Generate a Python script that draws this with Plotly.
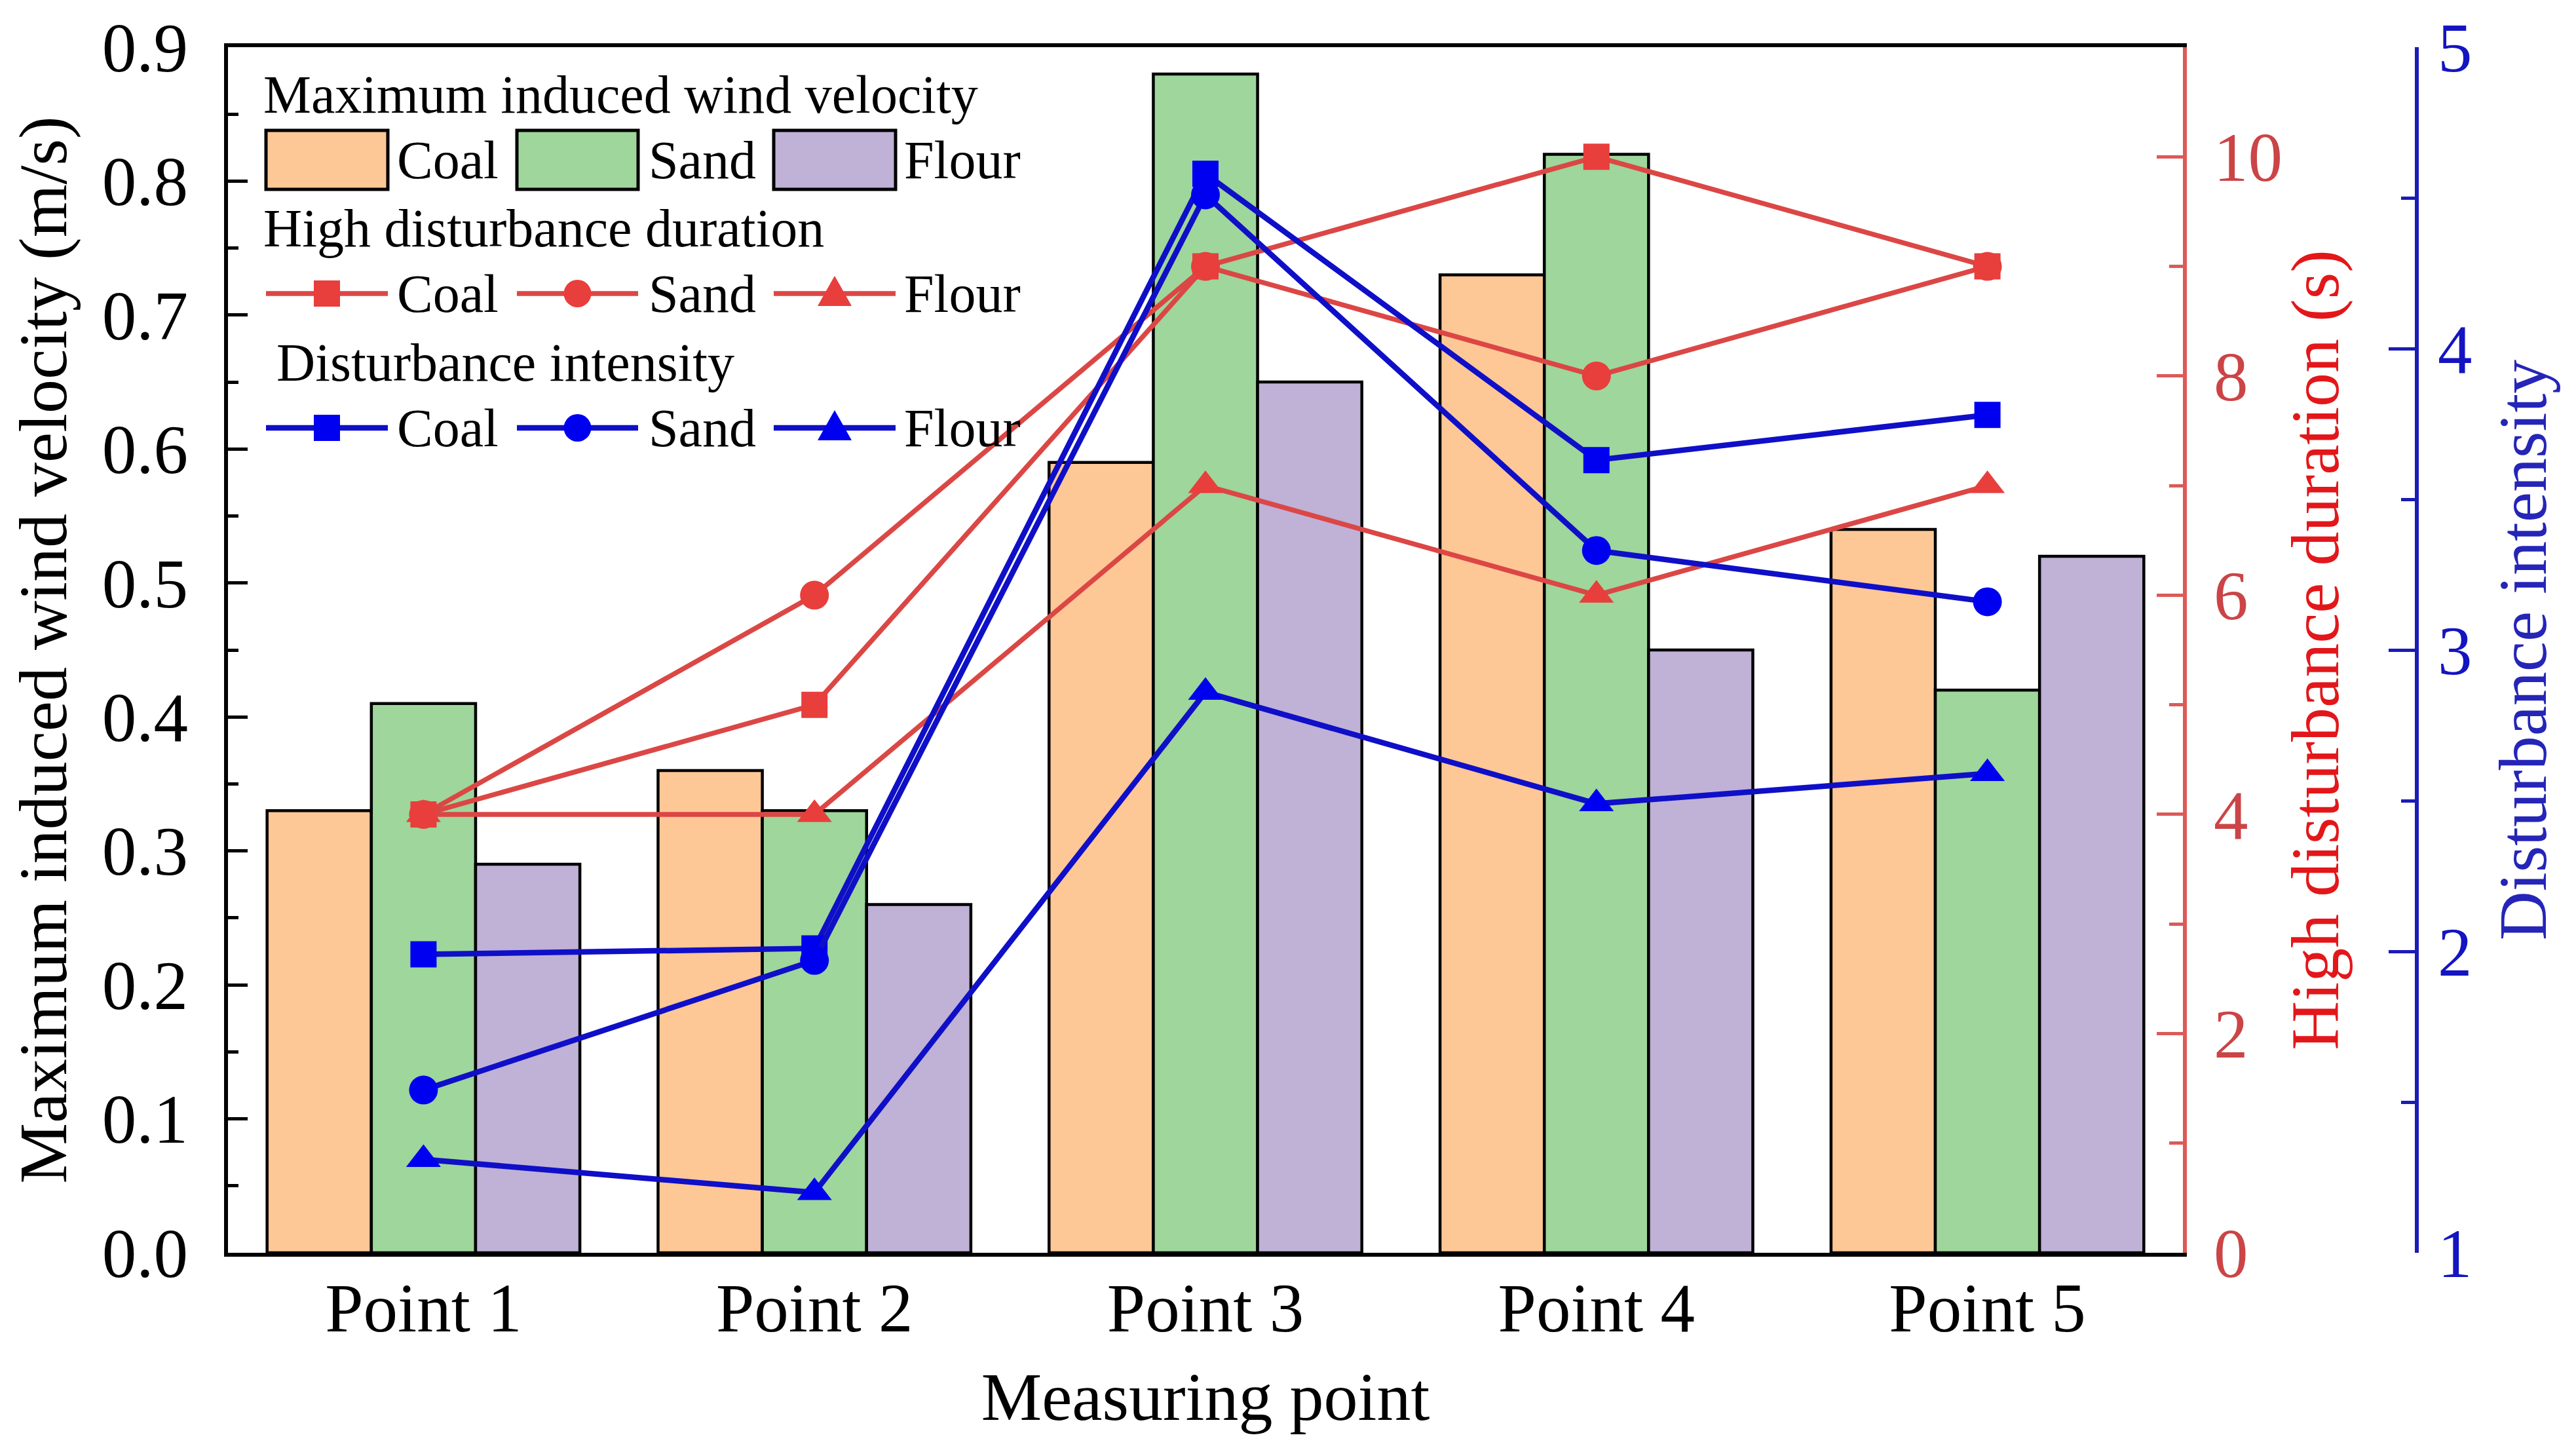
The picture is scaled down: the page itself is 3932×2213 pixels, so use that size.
import plotly.graph_objects as go

# ---------------- data ----------------
categories = ["Point 1", "Point 2", "Point 3", "Point 4", "Point 5"]
materials = ["Coal", "Sand", "Flour"]

# Maximum induced wind velocity (m/s) - bars
vel_coal = [0.33, 0.36, 0.59, 0.73, 0.54]
vel_sand = [0.41, 0.33, 0.88, 0.82, 0.42]
vel_flour = [0.29, 0.26, 0.65, 0.45, 0.52]

# High disturbance duration (s) - red lines
dur_coal = [4, 5, 9, 10, 9]
dur_sand = [4, 6, 9, 8, 9]
dur_flour = [4, 4, 7, 6, 7]

# Disturbance intensity - blue lines
int_coal = [1.99, 2.01, 4.58, 3.63, 3.78]
int_sand = [1.54, 1.97, 4.51, 3.33, 3.16]
int_flour = [1.31, 1.20, 2.86, 2.49, 2.59]

legend_titles = ["Maximum induced wind velocity", "High disturbance duration", "Disturbance intensity"]

# ---------------- style ----------------
W, H = 3932, 2213
ML, MR, MT, MB = 340, 251, 64, 309
PLOT_RIGHT = 3324
FONT = "Liberation Serif"
TICK_SIZE = 105
TITLE_SIZE = 104
LEG_SIZE = 82

BAR_COLORS = ["#FEC796", "#9ED69B", "#C0B1D7"]
RED_LINE = "#DB4745"
RED_MARK = "#E83E3C"
RED_AXIS = "#DC5A57"
RED_TICK = "#CB4446"
RED_TITLE = "#E3171A"
BLUE_LINE = "#0F0FC8"
BLUE_MARK = "#0000F0"
BLUE_AXIS = "#1B1BB5"
BLUE_TICK = "#1414C0"
BLUE_TITLE = "#2525B8"
SYMBOLS = ["square", "circle", "triangle-up"]
SIZES = [40, 44, 46]
RED_W = 7.5
BLUE_W = 8.5

paper_w = W - ML - MR
paper_h = H - MT - MB
x_dom_end = (PLOT_RIGHT - ML) / paper_w


def px(xp):
    return (xp - ML) / paper_w


def py(yp):
    return (H - MB - yp) / paper_h


fig = go.Figure()

vel = [vel_coal, vel_sand, vel_flour]
for m, v, c in zip(materials, vel, BAR_COLORS):
    fig.add_trace(go.Bar(x=categories, y=v, name=m, marker=dict(color=c, line=dict(color="black", width=4.5)),
                         yaxis="y", showlegend=False))

dur = [dur_coal, dur_sand, dur_flour]
for m, v, s, sz in zip(materials, dur, SYMBOLS, SIZES):
    fig.add_trace(go.Scatter(x=categories, y=v, name=m, mode="lines+markers", yaxis="y2",
                             line=dict(color=RED_LINE, width=RED_W),
                             marker=dict(symbol=s, size=sz, color=RED_MARK), showlegend=False))

inten = [int_coal, int_sand, int_flour]
for m, v, s, sz in zip(materials, inten, SYMBOLS, SIZES):
    fig.add_trace(go.Scatter(x=categories, y=v, name=m, mode="lines+markers", yaxis="y3",
                             line=dict(color=BLUE_LINE, width=BLUE_W),
                             marker=dict(symbol=s, size=sz, color=BLUE_MARK), showlegend=False))

# ---------------- manual legend ----------------
shapes = []
annotations = []
title_pos = [(392, 136), (392, 340), (412, 545)]
row_y = [236, 440, 645]
item_x = [(398, 584), (781, 966), (1173, 1359)]
label_x = [596, 980, 1370]

for t, (tx, ty) in zip(legend_titles, title_pos):
    annotations.append(dict(text=t, x=px(tx), y=py(ty), xref="paper", yref="paper", xanchor="left",
                            yanchor="middle", showarrow=False, font=dict(size=LEG_SIZE, color="black", family=FONT)))

for i, m in enumerate(materials):
    x0, x1 = item_x[i]
    # bar swatch
    shapes.append(dict(type="rect", xref="paper", yref="paper", x0=px(x0), x1=px(x1), y0=py(281), y1=py(191),
                       fillcolor=BAR_COLORS[i], line=dict(color="black", width=5)))
    for r, (lc, mc, lw) in enumerate([(RED_LINE, RED_MARK, RED_W), (BLUE_LINE, BLUE_MARK, BLUE_W)]):
        yc = row_y[r + 1]
        shapes.append(dict(type="line", xref="paper", yref="paper", x0=px(x0), x1=px(x1), y0=py(yc), y1=py(yc),
                           line=dict(color=lc, width=lw)))
        xc = (x0 + x1) / 2
        if SYMBOLS[i] == "square":
            shapes.append(dict(type="rect", xref="paper", yref="paper", x0=px(xc - 20), x1=px(xc + 20),
                               y0=py(yc + 20), y1=py(yc - 20), fillcolor=mc, line=dict(width=0)))
        elif SYMBOLS[i] == "circle":
            shapes.append(dict(type="circle", xref="paper", yref="paper", x0=px(xc - 21), x1=px(xc + 21),
                               y0=py(yc + 21), y1=py(yc - 21), fillcolor=mc, line=dict(width=0)))
        else:
            path = "M{},{} L{},{} L{},{} Z".format(px(xc - 26), py(yc + 19), px(xc + 26), py(yc + 19),
                                                    px(xc), py(yc - 27))
            shapes.append(dict(type="path", xref="paper", yref="paper", path=path, fillcolor=mc,
                               line=dict(width=0)))
    for r in range(3):
        annotations.append(dict(text=m, x=px(label_x[i]), y=py(row_y[r]), xref="paper", yref="paper",
                                xanchor="left", yanchor="middle", showarrow=False,
                                font=dict(size=LEG_SIZE, color="black", family=FONT)))

fig.update_layout(
    width=W, height=H,
    margin=dict(l=ML, r=MR, t=MT, b=MB, autoexpand=False),
    paper_bgcolor="white", plot_bgcolor="white",
    font=dict(family=FONT, size=TICK_SIZE, color="black"),
    barmode="group", bargap=0.2, bargroupgap=0,
    showlegend=False,
    shapes=shapes, annotations=annotations,
    xaxis=dict(domain=[0, x_dom_end], showline=True, mirror=True, linecolor="black", linewidth=6,
               ticks="", showgrid=False, zeroline=False, range=[-0.5, 4.5],
               tickfont=dict(size=TICK_SIZE, color="black", family=FONT), ticklabelstandoff=-12,
               title=dict(text="Measuring point", font=dict(size=TITLE_SIZE, color="black", family=FONT),
                          standoff=42)),
    yaxis=dict(range=[0, 0.9], tick0=0, dtick=0.1, tickformat=".1f", ticks="inside", ticklen=30, tickwidth=5,
               tickcolor="black", showline=True, linecolor="black", linewidth=6, showgrid=False, zeroline=False,
               minor=dict(dtick=0.05, ticks="inside", ticklen=16, tickwidth=5, tickcolor="black", showgrid=False),
               tickfont=dict(size=TICK_SIZE, color="black", family=FONT), ticklabelstandoff=34,
               title=dict(text="Maximum induced wind velocity (m/s)",
                          font=dict(size=TITLE_SIZE, color="black", family=FONT), standoff=40)),
    yaxis2=dict(overlaying="y", side="right", anchor="x", range=[0, 11], tick0=0, dtick=2, ticks="inside",
                ticklen=40, tickwidth=5, tickcolor=RED_AXIS, showline=True, linecolor=RED_AXIS, linewidth=6,
                showgrid=False, zeroline=False,
                minor=dict(dtick=1, ticks="inside", ticklen=21, tickwidth=5, tickcolor=RED_AXIS, showgrid=False),
                tickfont=dict(size=TICK_SIZE, color=RED_TICK, family=FONT), ticklabelstandoff=20,
                title=dict(text="High disturbance duration (s)",
                           font=dict(size=TITLE_SIZE, color=RED_TITLE, family=FONT), standoff=15)),
    yaxis3=dict(overlaying="y", side="right", anchor="free", position=1.0, range=[1, 5], tick0=1, dtick=1,
                ticks="inside", ticklen=40, tickwidth=5, tickcolor=BLUE_AXIS, showline=True, linecolor=BLUE_AXIS,
                linewidth=6, showgrid=False, zeroline=False,
                minor=dict(dtick=0.5, ticks="inside", ticklen=21, tickwidth=5, tickcolor=BLUE_AXIS, showgrid=False),
                tickfont=dict(size=TICK_SIZE, color=BLUE_TICK, family=FONT), ticklabelstandoff=8,
                title=dict(text="Disturbance intensity",
                           font=dict(size=TITLE_SIZE, color=BLUE_TITLE, family=FONT), standoff=40)),
)

fig.write_html("out.html")
